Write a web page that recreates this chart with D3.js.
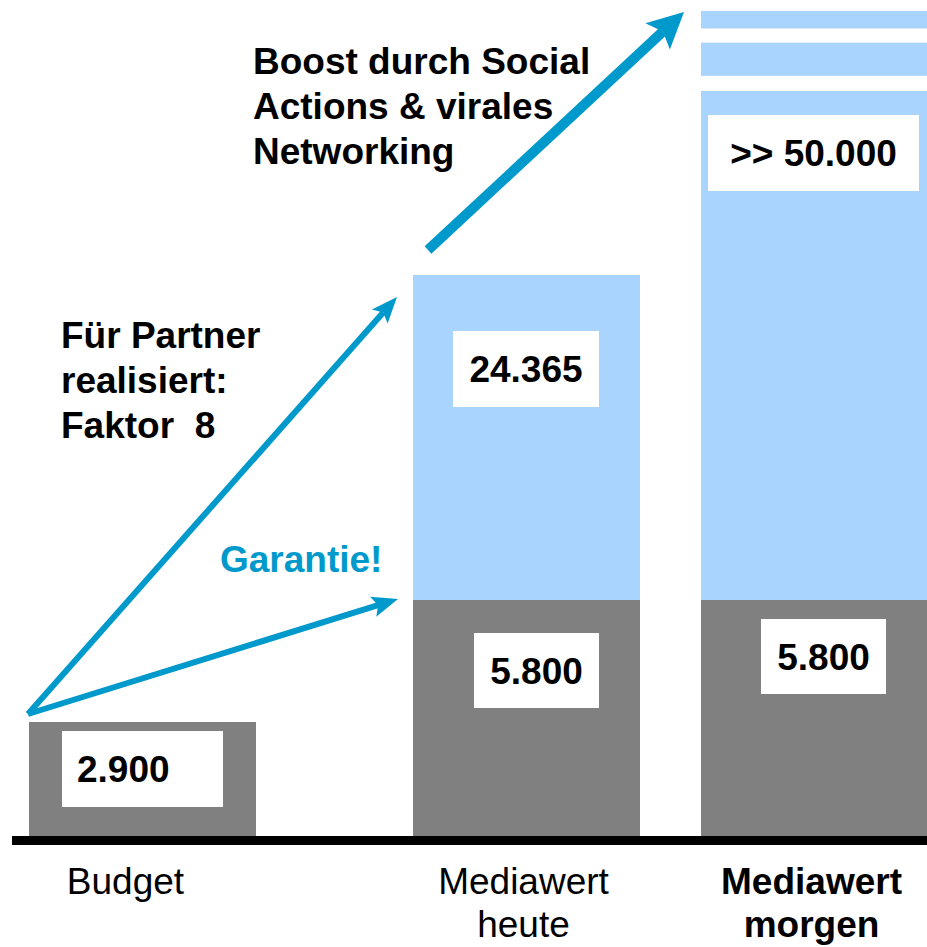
<!DOCTYPE html>
<html>
<head>
<meta charset="utf-8">
<script src="https://cdn.jsdelivr.net/npm/d3@7"></script>
<style>
  html, body { margin: 0; padding: 0; background: #fff; }
  svg { display: block; font-family: "Liberation Sans", Arial, sans-serif; }
  text { white-space: pre; }
</style>
</head>
<body>
<div id="chart"></div>
<script>
// chart data
const categories = ["Budget", "Mediawert heute", "Mediawert morgen"];
const baseValues = [2900, 5800, 5800];      // grey part
const boostValues = [0, 24365, 50000];      // light blue part
const overflowBands = [[59000, 66000], [69000, 72700]]; // "more" stripes above morgen
const baseLabels = ["2.900", "5.800", "5.800"];
const boostLabels = ["", "24.365", ">> 50.000"];
const axisLines = [["Budget"], ["Mediawert", "heute"], ["Mediawert", "morgen"]];
const noteBoost = ["Boost durch Social", "Actions & virales", "Networking"];
const notePartner = ["Für Partner", "realisiert:", "Faktor  8"];
const noteGarantie = "Garantie!";

document.addEventListener("DOMContentLoaded", () => {
    const width = 927, height = 947;
    const baseY = 836, barW = 227;
    const fs = 37;
    const GREY = "#808080", LIGHT = "#a9d4fe", BLUE = "#0099cc";

    const svg = d3.select("#chart").append("svg")
        .attr("width", width)
        .attr("height", height);

    const x = d3.scaleOrdinal().domain(categories).range([29, 413, 701]);

    // broken (piecewise) value scale – the chart is schematic, not proportional
    const tops = categories.map((c, i) => baseValues[i] + boostValues[i]);
    const y = d3.scaleLinear()
        .domain([0, baseValues[0], baseValues[1], tops[1], tops[2], 75000])
        .range([baseY, 722, 600, 275, 91, 0]);

    const rows = categories.map((c, i) => ({
        cat: c, base: baseValues[i], top: tops[i], boost: boostValues[i],
        baseLabel: baseLabels[i], boostLabel: boostLabels[i]
    }));

    // grey bars
    svg.selectAll("rect.base")
        .data(rows)
        .enter().append("rect")
        .attr("class", "base")
        .attr("x", d => x(d.cat))
        .attr("y", d => y(d.base))
        .attr("width", barW)
        .attr("height", d => y(0) - y(d.base))
        .attr("fill", GREY);

    // light blue bars
    svg.selectAll("rect.boost")
        .data(rows.filter(d => d.boost > 0))
        .enter().append("rect")
        .attr("class", "boost")
        .attr("x", d => x(d.cat))
        .attr("y", d => y(d.top))
        .attr("width", barW)
        .attr("height", d => y(d.base) - y(d.top))
        .attr("fill", LIGHT);

    svg.selectAll("rect.over")
        .data(overflowBands)
        .enter().append("rect")
        .attr("class", "over")
        .attr("x", x(categories[2]))
        .attr("y", d => y(d[1]))
        .attr("width", barW)
        .attr("height", d => y(d[0]) - y(d[1]))
        .attr("fill", LIGHT);

    // baseline
    svg.append("rect")
        .attr("x", 12).attr("y", baseY)
        .attr("width", width - 12).attr("height", 9)
        .attr("fill", "#000");

    // white value boxes
    const boxes = [
        { cat: 0, v: rows[0].base, t: rows[0].baseLabel, dx: 33, dy: 9, w: 161, h: 76, pad: 15 },
        { cat: 1, v: rows[1].top, t: rows[1].boostLabel, dx: 40, dy: 56, w: 146, h: 76 },
        { cat: 1, v: rows[1].base, t: rows[1].baseLabel, dx: 61, dy: 33, w: 125, h: 75 },
        { cat: 2, v: rows[2].top, t: rows[2].boostLabel, dx: 7, dy: 24, w: 211, h: 76 },
        { cat: 2, v: rows[2].base, t: rows[2].baseLabel, dx: 60, dy: 19, w: 125, h: 75 }
    ];
    const bg = svg.selectAll("g.box")
        .data(boxes)
        .enter().append("g")
        .attr("class", "box")
        .attr("transform", d => `translate(${x(categories[d.cat]) + d.dx},${y(d.v) + d.dy})`);
    bg.append("rect")
        .attr("width", d => d.w)
        .attr("height", d => d.h)
        .attr("fill", "#fff");
    bg.append("text")
        .attr("x", d => d.pad != null ? d.pad : d.w / 2)
        .attr("y", d => d.h / 2 + fs * 0.36)
        .attr("text-anchor", d => d.pad != null ? "start" : "middle")
        .style("font-size", fs + "px")
        .style("font-weight", 700)
        .text(d => d.t);

    // arrows
    function arrow(x0, y0, x1, y1, sw, hl, hw) {
        const a = Math.atan2(y1 - y0, x1 - x0);
        const ux = Math.cos(a), uy = Math.sin(a);
        const bx = x1 - ux * hl, by = y1 - uy * hl;
        const nx = bx + ux * hl * 0.2, ny = by + uy * hl * 0.2;
        svg.append("line")
            .attr("x1", x0).attr("y1", y0)
            .attr("x2", nx).attr("y2", ny)
            .attr("stroke", BLUE)
            .attr("stroke-width", sw);
        const pts = [
            [x1, y1],
            [bx - uy * hw / 2, by + ux * hw / 2],
            [nx, ny],
            [bx + uy * hw / 2, by - ux * hw / 2]
        ];
        svg.append("polygon")
            .attr("points", pts.map(p => p.join(",")).join(" "))
            .attr("fill", BLUE);
    }
    const sx = x(categories[0]) - 1, sy = y(baseValues[0]) - 8;
    arrow(sx, sy, x(categories[1]) - 15, y(baseValues[1]) - 1, 6, 26, 21);
    arrow(sx, sy, x(categories[1]) - 16, y(tops[1]) + 22, 6, 26, 21);
    arrow(x(categories[1]) + 15, y(tops[1]) - 25, x(categories[2]) - 17, y(overflowBands[1][1]) + 1, 10, 36, 36);

    // notes
    svg.append("g").selectAll("text")
        .data(noteBoost)
        .enter().append("text")
        .attr("x", 253)
        .attr("y", (d, i) => 74 + i * 45)
        .style("font-size", fs + "px")
        .style("font-weight", 700)
        .text(d => d);

    svg.append("g").selectAll("text")
        .data(notePartner)
        .enter().append("text")
        .attr("x", 61)
        .attr("y", (d, i) => 348 + i * 45)
        .style("font-size", fs + "px")
        .style("font-weight", 700)
        .text(d => d);

    svg.append("text")
        .attr("x", 220).attr("y", 572)
        .style("font-size", fs + "px")
        .style("font-weight", 700)
        .attr("fill", BLUE)
        .text(noteGarantie);

    // category labels
    const labelShift = [-17, -3, -3];
    categories.forEach((c, i) => {
        svg.append("g").selectAll("text")
            .data(axisLines[i])
            .enter().append("text")
            .attr("x", x(c) + barW / 2 + labelShift[i])
            .attr("y", (d, j) => 894 + j * 43)
            .attr("text-anchor", "middle")
            .style("font-size", fs + "px")
            .style("font-weight", i === 2 ? 700 : 400)
            .text(d => d);
    });
});
</script>
</body>
</html>
